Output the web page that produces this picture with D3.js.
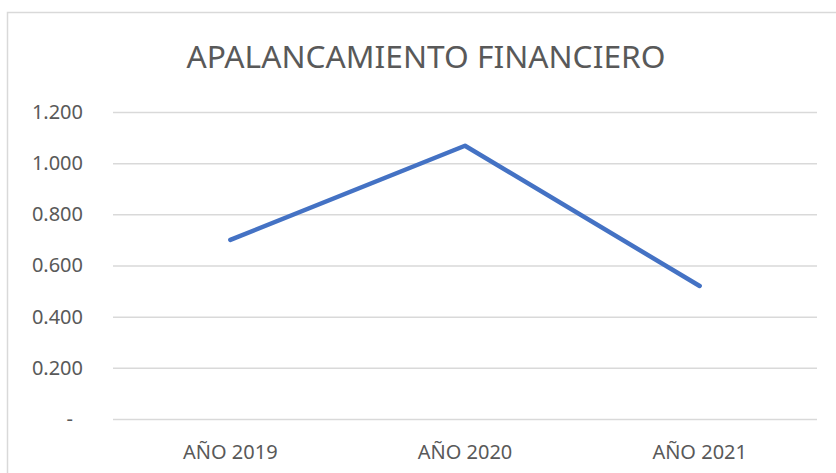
<!DOCTYPE html>
<html><head><meta charset="utf-8">
<script src="https://cdn.jsdelivr.net/npm/d3@7"></script>
<style>body{margin:0;background:#fff}svg{display:block}</style>
</head><body>
<script>
const categories = ["AÑO 2019", "AÑO 2020", "AÑO 2021"];
const values = [0.70, 1.068, 0.52];
const yTicks = [0, 0.2, 0.4, 0.6, 0.8, 1.0, 1.2];
const title = "APALANCAMIENTO FINANCIERO";

const W = 836, H = 473;
const m = {left: 113, right: 19, top: 112, bottom: 54};
const svg = d3.select("body").append("svg").attr("width", W).attr("height", H);
svg.append("rect").attr("x", 7.5).attr("y", 12.5).attr("width", W + 10).attr("height", H + 10)
  .attr("fill", "#fff").attr("stroke", "#d9d9d9").attr("stroke-width", 1.5);

const x = d3.scaleBand().domain(categories).range([m.left, W - m.right]);
const y = d3.scaleLinear().domain([0, 1.2]).range([H - m.bottom, m.top]);
const fmt = v => v === 0 ? "-" : d3.format(".3f")(v);

const font = "'Noto Sans', 'Open Sans', sans-serif";

svg.append("text").attr("x", 426).attr("y", 68).attr("text-anchor", "middle")
  .attr("font-family", font).attr("font-size", 31).attr("fill", "#595959")
  .attr("textLength", 479).attr("lengthAdjust", "spacingAndGlyphs").text(title);

const yAxis = svg.append("g").attr("transform", `translate(${m.left},0)`)
  .call(d3.axisLeft(y).tickValues(yTicks).tickFormat(fmt).tickSize(-(W - m.left - m.right)).tickPadding(30));
yAxis.select(".domain").remove();
yAxis.selectAll("line").attr("stroke", "#d9d9d9").attr("stroke-width", 1.5);
yAxis.selectAll("text").attr("font-family", font).attr("font-size", 20).attr("fill", "#595959");
yAxis.selectAll(".tick").filter(d => d === 0).select("text").attr("dx", -10);

const xAxis = svg.append("g").attr("transform", `translate(0,${H - m.bottom})`)
  .call(d3.axisBottom(x).tickSize(0));
xAxis.select(".domain").remove();
xAxis.selectAll("text").attr("font-family", font).attr("font-size", 20).attr("fill", "#595959")
  .attr("y", 40).attr("dy", 0);

const line = d3.line().x((d, i) => x(categories[i]) + x.bandwidth() / 2).y(d => y(d));
svg.append("path").datum(values).attr("d", line).attr("fill", "none")
  .attr("stroke", "#4472C4").attr("stroke-width", 4.5).attr("stroke-linecap", "round").attr("stroke-linejoin", "round");
</script>
</body></html>
